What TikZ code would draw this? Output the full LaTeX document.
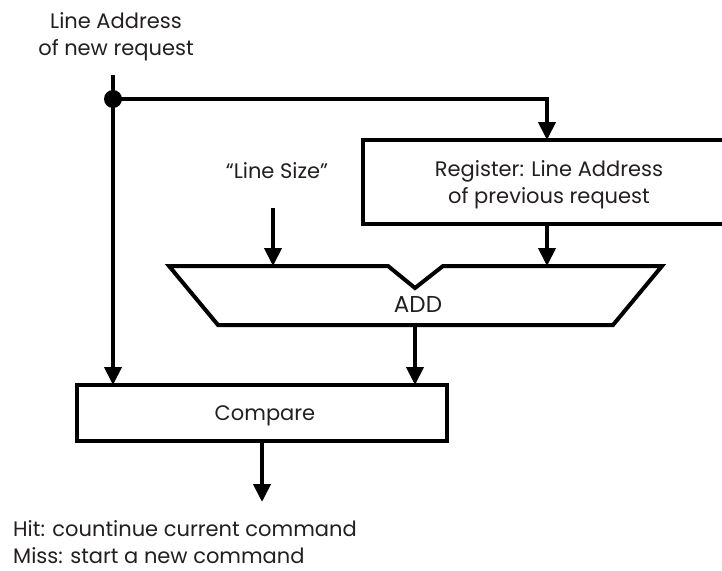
\documentclass[tikz,border=0pt]{standalone}
\usepackage{fontspec}
\setmainfont{Poppins}
\usetikzlibrary{arrows.meta}
\definecolor{ink}{HTML}{231F20}
\begin{document}
\begin{tikzpicture}[x=1pt,y=-1pt,
  wire/.style={line width=4pt},
  flow/.style={wire,-{Triangle[length=18pt,width=17pt]}},
  lbl/.style={text=ink,align=center,inner sep=0pt,font=\fontsize{21}{26.5}\selectfont},
  blk/.style={draw,line width=4pt,line join=miter}]
\useasboundingbox (0,0) rectangle (722,570);

% input label and junction
\node[lbl,anchor=base] (inlbl) at (116,55) {Line Address\\of new request};
\coordinate (in) at (113,75);
\coordinate (j) at (113,99);
\fill (j) circle (9);

% register holding the previous line address (open on the right)
\draw[wire,line join=miter] (740,140) -- (363,140) -- (363,224) -- (740,224);
\node[lbl,anchor=base] (reg) at (549,203) {Register: Line Address\\of previous request};
\coordinate (regtop) at (547,140);
\coordinate (regbot) at (547,224);

% line size constant
\node[lbl,anchor=base] (ls) at (277,178) {“Line Size”};
\coordinate (lsout) at (273,208);

% adder
\draw[wire,line join=miter] (169,266) -- (388,266) -- (415,288) -- (443,266) -- (662,266)
  -- (613,325) -- (218,325) -- cycle;
\node[lbl,anchor=base,font=\fontsize{23}{27}\selectfont] (add) at (418,312) {ADD};
\coordinate (addl) at (273,266);
\coordinate (addr) at (547,266);
\coordinate (addb) at (415,325);

% comparator
\draw[wire,line join=miter] (77,385) rectangle (447,441);
\node[lbl,anchor=base] (cmp) at (265,420) {Compare};
\coordinate (cmpl) at (113,385);
\coordinate (cmpr) at (415,385);
\coordinate (cmpb) at (262,441);
\coordinate (out) at (262,502);

% result
\node[lbl,anchor=base west,align=left] (res) at (13,563) {Hit: countinue current command\\Miss: start a new command};

% connectors
\draw[wire] (in) -- (j);
\draw[flow] (j) -- (cmpl);
\draw[flow] (j) -| (regtop);
\draw[flow] (regbot) -- (addr);
\draw[flow] (lsout) -- (addl);
\draw[flow] (addb) -- (cmpr);
\draw[flow] (cmpb) -- (out);
\end{tikzpicture}
\end{document}
